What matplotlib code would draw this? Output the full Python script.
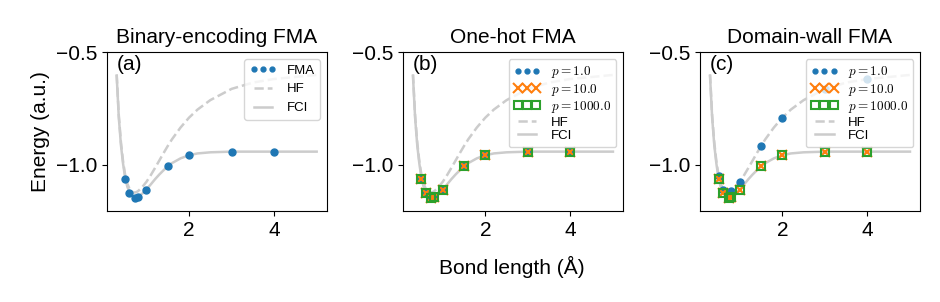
import matplotlib
matplotlib.use("Agg")
import matplotlib.pyplot as plt

plt.rcParams["font.family"] = ["Liberation Sans", "DejaVu Sans"]
plt.rcParams["mathtext.fontset"] = "cm"
plt.rcParams["font.size"] = 15

# -------------------------------
# DATA
# -------------------------------
# reference curves
curve_r = [0.30, 0.35, 0.40, 0.45, 0.50, 0.55, 0.60, 0.65, 0.70, 0.75, 0.80,
           0.90, 1.00, 1.10, 1.20, 1.30, 1.40, 1.50, 1.60, 1.80, 2.00, 2.20,
           2.50, 3.00, 3.50, 4.00, 5.00]
fci_e = [-0.605, -0.790, -0.912, -0.995, -1.058, -1.097, -1.121, -1.135,
         -1.143, -1.145, -1.142, -1.128, -1.109, -1.087, -1.064, -1.043,
         -1.024, -1.006, -0.992, -0.971, -0.957, -0.949, -0.944, -0.941,
         -0.941, -0.941, -0.941]
hf_e = [-0.597, -0.780, -0.900, -0.985, -1.046, -1.083, -1.106, -1.118,
        -1.123, -1.122, -1.117, -1.099, -1.075, -1.046, -1.014, -0.981,
        -0.948, -0.916, -0.886, -0.834, -0.790, -0.754, -0.712, -0.662,
        -0.634, -0.618, -0.600]

# FMA results
bond_r = [0.5, 0.6, 0.735, 0.8, 1.0, 1.5, 2.0, 3.0, 4.0]
fma_binary = [-1.064, -1.124, -1.146, -1.144, -1.111, -1.007, -0.958, -0.941, -0.941]
fma_onehot = [-1.064, -1.124, -1.146, -1.144, -1.111, -1.007, -0.958, -0.941, -0.941]
fma_dw_p1 = [-1.050, -1.110, -1.122, -1.117, -1.075, -0.916, -0.790, -0.661, -0.618]
fma_dw_p10 = [-1.064, -1.124, -1.146, -1.144, -1.111, -1.007, -0.958, -0.941, -0.941]
fma_dw_p1000 = [-1.064, -1.124, -1.146, -1.144, -1.111, -1.007, -0.958, -0.941, -0.941]

titles = ["Binary-encoding FMA", "One-hot FMA", "Domain-wall FMA"]
panel_tags = ["(a)", "(b)", "(c)"]

# -------------------------------
# PLOT
# -------------------------------
fig = plt.figure(figsize=(9.4, 3.02), dpi=100)
lefts = [0.1135, 0.4287, 0.7447]
axes = [fig.add_axes([l, 0.3013, 0.234, 0.525]) for l in lefts]

gray = "#cccccc"
c_blue, c_orange, c_green = "#1f77b4", "#ff7f0e", "#2ca02c"

for i, ax in enumerate(axes):
    if i == 0:
        ax.plot(bond_r, fma_binary, "o", color=c_blue, ms=5, label="FMA", zorder=3)
    else:
        p1 = fma_onehot if i == 1 else fma_dw_p1
        p10 = fma_onehot if i == 1 else fma_dw_p10
        p1000 = fma_onehot if i == 1 else fma_dw_p1000
        ax.plot(bond_r, p1, "o", color=c_blue, ms=5, label="$p=1.0$", zorder=3)
        ax.plot(bond_r, p10, "x", color=c_orange, ms=7, mew=1.5,
                label="$p=10.0$", zorder=3)
        ax.plot(bond_r, p1000, "s", color=c_green, mfc="none", ms=6, mew=1.5,
                label="$p=1000.0$", zorder=3)
    ax.plot(curve_r, hf_e, "--", color=gray, lw=1.8, label="HF")
    ax.plot(curve_r, fci_e, "-", color=gray, lw=1.8, label="FCI")

    ax.set_ylim(-1.205, -0.5)
    ax.set_yticks([-1.0, -0.5])
    ax.set_xticks([2, 4])
    ax.set_title(titles[i], fontsize=15, pad=7)
    ax.text(0.045, 0.985, panel_tags[i], transform=ax.transAxes,
            ha="left", va="top", fontsize=15)
    spacing = 0.5 if i == 0 else 0.1
    leg = ax.legend(loc="upper right", fontsize=9.5, numpoints=3, handlelength=2.0,
                    borderpad=0.4, labelspacing=spacing, handletextpad=0.8)
    leg.legend_handles[0].set_markersize(3.5)

axes[0].set_ylabel("Energy (a.u.)")
fig.text(0.545, 0.116, "Bond length (Å)", ha="center", va="center", fontsize=15)

plt.savefig("out.png", dpi=100)
